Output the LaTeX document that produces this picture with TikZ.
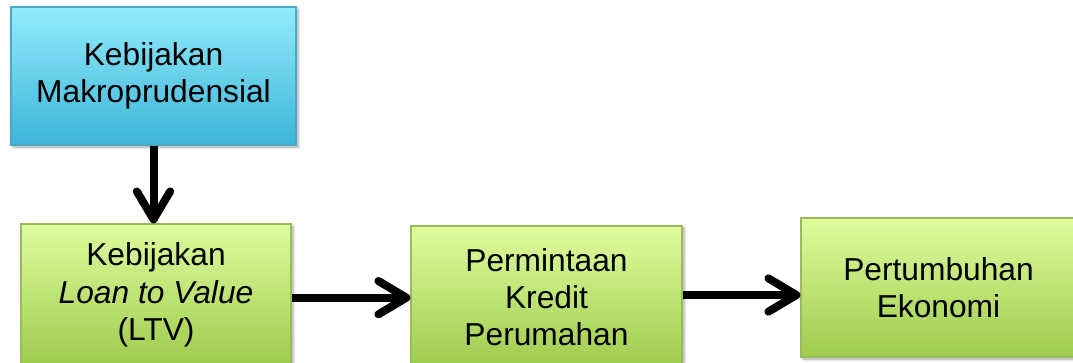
\documentclass[tikz,border=0pt]{standalone}
\usepackage{fontspec}
\setmainfont{Liberation Sans}
\usetikzlibrary{arrows.meta,shadows.blur,calc}
\definecolor{bluetop}{HTML}{93EBFB}
\definecolor{bluebot}{HTML}{3CB5D9}
\definecolor{blueedge}{HTML}{4DA8C8}
\definecolor{greentop}{HTML}{DEFC9E}
\definecolor{greenbot}{HTML}{9ECB4C}
\definecolor{greenedge}{HTML}{9BBB59}
\tikzset{
  boxbase/.style={rectangle, align=center, line width=0.9pt, inner sep=0pt,
    font=\fontsize{23.8}{28}\selectfont,
    blur shadow={shadow xshift=1.6pt, shadow yshift=-1.6pt, shadow blur steps=6, shadow opacity=35, shadow blur radius=2pt}},
  bluebox/.style={boxbase, draw=blueedge, top color=bluetop, bottom color=bluebot},
  greenbox/.style={boxbase, draw=greenedge, top color=greentop, bottom color=greenbot},
  arr/.style={line width=6pt, -{Straight Barb[length=21pt,width=25pt,round]}}
}
\begin{document}
\begin{tikzpicture}[x=0.75pt,y=-0.75pt]
\useasboundingbox (0,0) rectangle (1073,362);
\node[bluebox, minimum width=213.75pt, minimum height=103.5pt] (top) at (153.5,76) {Kebijakan\\Makroprudensial};
\node[greenbox, minimum width=202.5pt, minimum height=106.5pt] (ltv) at (156,295) {Kebijakan\\\textit{Loan to Value}\\(LTV)};
\node[greenbox, minimum width=203.25pt, minimum height=106.5pt] (kpr) at (546.5,297) {Permintaan\\Kredit\\Perumahan};
\node[greenbox, minimum width=206.25pt, minimum height=104.25pt] (eko) at (938.5,287.5) {Pertumbuhan\\Ekonomi};
\draw[arr] (top.south) -- (top.south |- ltv.north);
\draw[arr] ([yshift=-2pt]ltv.east) -- ([yshift=-2pt]ltv.east -| kpr.west);
\draw[arr] ([yshift=1.5pt]kpr.east) -- ([yshift=1.5pt]kpr.east -| eko.west);
\end{tikzpicture}
\end{document}
